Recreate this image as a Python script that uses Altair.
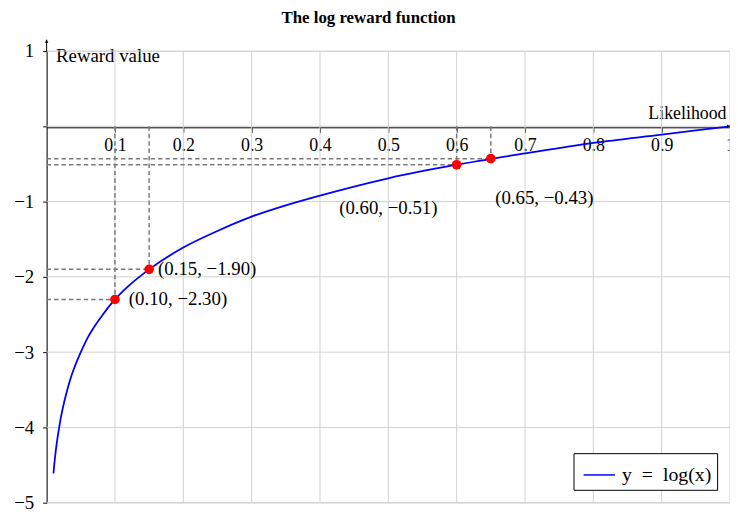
import altair as alt
import pandas as pd

# ---------------- data ----------------
curve_x = [0.01, 0.0125, 0.015, 0.0175, 0.02, 0.025, 0.03, 0.035, 0.04, 0.05, 0.06, 0.07,
           0.08, 0.1, 0.12, 0.15, 0.2, 0.25, 0.3, 0.35, 0.4, 0.5, 0.6, 0.7, 0.8, 0.9, 1.0]
curve_y = [-4.61, -4.38, -4.20, -4.05, -3.91, -3.69, -3.51, -3.35, -3.22, -3.00, -2.81, -2.66,
           -2.53, -2.30, -2.12, -1.90, -1.61, -1.39, -1.20, -1.05, -0.92, -0.69, -0.51, -0.36,
           -0.22, -0.11, 0.00]
series_name = "y\u2002=\u2002log(x)"

pt_x = [0.10, 0.15, 0.60, 0.65]
pt_y = [-2.30, -1.90, -0.51, -0.43]
pt_labels = ["(0.10, −2.30)", "(0.15, −1.90)", "(0.60, −0.51)", "(0.65, −0.43)"]

x_ticks = [0.1, 0.2, 0.3, 0.4, 0.5, 0.6, 0.7, 0.8, 0.9, 1.0]
y_ticks = [-5, -4, -3, -2, -1, 0, 1]

x_min, x_max = 0, 1
y_min, y_max = -5, 1
y_arrow_tip = 1.15

title_text = "The log reward function"
x_title = "Likelihood"
y_title = "Reward value"

# ---------------- frames ----------------
curve_df = pd.DataFrame({"x": curve_x, "y": curve_y, "series": series_name})
pts_df = pd.DataFrame({"x": pt_x, "y": pt_y, "label": pt_labels, "idx": list(range(len(pt_x)))})
pts_df["zero"] = 0
xgrid_df = pd.DataFrame({"x": x_ticks, "y0": y_min, "y1": y_max})
ygrid_df = pd.DataFrame({"y": y_ticks, "x0": x_min, "x1": x_max})
yext_df = pd.DataFrame({"x": [x_min], "y0": [y_max], "y1": [y_arrow_tip]})
xarrow_df = pd.DataFrame({"x": [x_max], "y": [0]})
yarrow_df = pd.DataFrame({"x": [x_min], "y": [y_arrow_tip]})

SERIF = "Liberation Serif"
xscale = alt.Scale(domain=[x_min, x_max], nice=False, zero=False)
yscale = alt.Scale(domain=[y_min, y_max], nice=False, zero=False)

xaxis = alt.Axis(
    values=x_ticks, format="~g", grid=False, offset=-379,
    domain=True, domainColor="black", domainWidth=1,
    ticks=True, tickColor="black", tickSize=5, tickWidth=1,
    labelFont=SERIF, labelFontSize=18, labelColor="black", labelPadding=4,
    labelOverlap=False, labelFlush=False, labelBound=False,
    title=x_title, titleFont=SERIF, titleFontSize=18, titleFontWeight="normal",
    titleColor="black", titleAlign="right", titleBaseline="alphabetic",
    titleX=686, titleY=-9, titleAngle=0,
)
yaxis = alt.Axis(
    values=y_ticks, format="~g", grid=False,
    labelExpr="datum.value == 0 ? '' : datum.label",
    domain=True, domainColor="black", domainWidth=1,
    ticks=True, tickColor="black", tickSize=4, tickWidth=1,
    labelFont=SERIF, labelFontSize=19, labelColor="black", labelPadding=9,
    labelOverlap=False, labelFlush=False, labelBound=False,
    title=y_title, titleFont=SERIF, titleFontSize=19, titleFontWeight="normal",
    titleColor="black", titleAlign="left", titleBaseline="alphabetic",
    titleX=9, titleY=11, titleAngle=0,
)


def X(field, **kw):
    return alt.X(field, type="quantitative", scale=xscale, axis=xaxis, **kw)


def Y(field, **kw):
    return alt.Y(field, type="quantitative", scale=yscale, axis=yaxis, **kw)


grid_color = "#d0d0d0"
vgrid = alt.Chart(xgrid_df).mark_rule(color=grid_color, strokeWidth=1).encode(
    x=X("x"), y=Y("y0"), y2="y1")
hgrid = alt.Chart(ygrid_df).mark_rule(color=grid_color, strokeWidth=1).encode(
    y=Y("y"), x=X("x0"), x2="x1")

dash_style = dict(color="#7a7a7a", strokeWidth=1.5, strokeDash=[4.5, 3])
hdash = alt.Chart(pts_df).mark_rule(**dash_style).encode(
    x=X("zero"), x2="x", y=Y("y"))
vdash = alt.Chart(pts_df).mark_rule(**dash_style).encode(
    x=X("x"), y=Y("zero"), y2="y")

curve = alt.Chart(curve_df).mark_line(strokeWidth=1.8, interpolate="monotone").encode(
    x=X("x"), y=Y("y"),
    color=alt.Color("series:N", scale=alt.Scale(range=["#0000ff"]),
                    legend=alt.Legend(
                        title=None, orient="bottom-right", offset=13,
                        symbolType="stroke", symbolSize=1000, symbolStrokeWidth=1.5,
                        symbolOffset=4,
                        labelFont=SERIF, labelFontSize=20, labelColor="black",
                        labelOffset=6, padding=5, strokeColor="black",
                        fillColor="white", cornerRadius=0)),
)

points = alt.Chart(pts_df).mark_circle(color="#ff0000", size=95, opacity=1).encode(
    x=X("x"), y=Y("y"))

# label placement (style): dx, dy, align per point index
label_styles = [(14, 0, "left"), (9, 0, "left"), (-69, 44, "center"), (54, 40, "center")]
label_layers = []
for i, (dx, dy, align) in enumerate(label_styles):
    label_layers.append(
        alt.Chart(pts_df).transform_filter(f"datum.idx == {i}").mark_text(
            font=SERIF, fontSize=19, color="black", dx=dx, dy=dy, align=align,
            baseline="middle").encode(x=X("x"), y=Y("y"), text="label:N"))

yext = alt.Chart(yext_df).mark_rule(color="black", strokeWidth=1).encode(
    x=X("x"), y=Y("y0"), y2="y1")
xarrow = alt.Chart(xarrow_df).mark_point(
    shape="M0,0L-1,-0.6L-1,0.6Z", filled=True, color="black", size=36, opacity=1).encode(
    x=X("x"), y=Y("y"))
yarrow = alt.Chart(yarrow_df).mark_point(
    shape="M0,0L-0.6,1L0.6,1Z", filled=True, color="black", size=36, opacity=1).encode(
    x=X("x"), y=Y("y"))

chart = alt.layer(
    vgrid, hgrid, hdash, vdash, curve, points, *label_layers, yext, xarrow, yarrow
).properties(
    width=690, height=456,
    autosize="none",
    padding={"left": 39, "top": 41, "right": 0, "bottom": 14},
    title=alt.TitleParams(title_text, font=SERIF, fontSize=17, fontWeight="bold",
                          color="black", anchor="middle", dx=-20, offset=12),
).configure_view(stroke=None).configure(background="white")

chart.save("out.html", embed_options={"renderer": "svg", "actions": False})
